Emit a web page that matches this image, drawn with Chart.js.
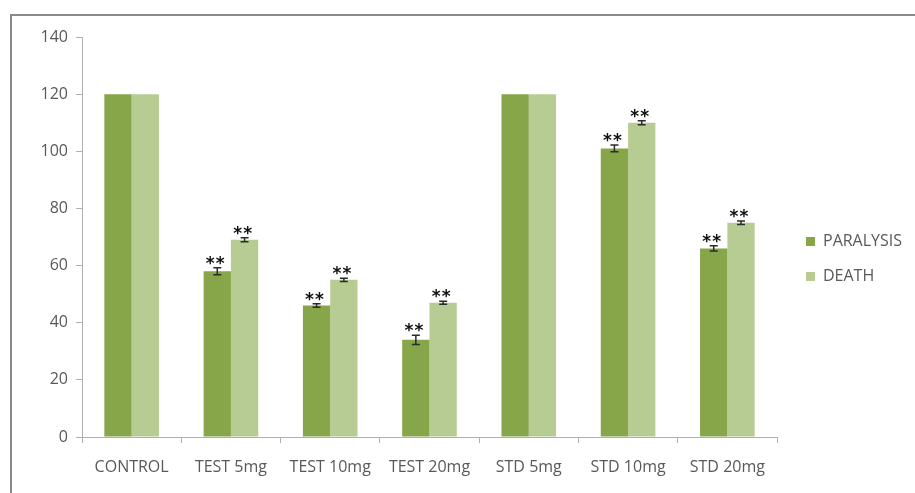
<!DOCTYPE html>
<html>
<head>
<meta charset="utf-8">
<script src="https://cdn.jsdelivr.net/npm/chart.js@4"></script>
<style>
  html, body { margin: 0; padding: 0; background: #fff; overflow: hidden; }
  #wrap { position: relative; width: 915px; height: 493px; }
  #frame { position: absolute; left: 10px; top: 14px; width: 1000px; height: 1000px;
           border-left: 2px solid #8a8a8a; border-top: 2px solid #8a8a8a; box-sizing: border-box; }
  canvas { position: absolute; left: 0; top: 0; }
</style>
</head>
<body>
<div id="wrap">
  <div id="frame"></div>
  <canvas id="chart" width="915" height="493"></canvas>
</div>
<script>
  // groups on the x axis
  const groups = ['CONTROL', 'TEST 5mg', 'TEST 10mg', 'TEST 20mg', 'STD 5mg', 'STD 10mg', 'STD 20mg'];

  // time values per group
  const paralysis = [120, 58, 46, 34, 120, 101, 66];
  const death = [120, 69, 55, 47, 120, 110, 75];

  // error bars (0 = none)
  const paralysisErr = [0, 1.2, 0.6, 1.6, 0, 1.2, 0.9];
  const deathErr = [0, 0.7, 0.6, 0.5, 0, 0.7, 0.6];

  // significance marks drawn above the bars
  const paralysisSig = ['', '**', '**', '**', '', '**', '**'];
  const deathSig = ['', '**', '**', '**', '', '**', '**'];

  const yTicks = [0, 20, 40, 60, 80, 100, 120, 140];

  const COLOR_PARALYSIS = '#87a64a';
  const COLOR_DEATH = '#b6cc93';
  const COLOR_TEXT = '#595959';
  const COLOR_AXIS = '#b0b0b0';
  const FONT = "'Open Sans', sans-serif";

  // error bars + stars, placed through the chart's own scales
  const errorBarPlugin = {
    id: 'errorBars',
    afterDatasetsDraw(chart) {
      const ctx = chart.ctx;
      const yScale = chart.scales.y;
      chart.data.datasets.forEach((ds, di) => {
        const meta = chart.getDatasetMeta(di);
        meta.data.forEach((bar, i) => {
          const v = ds.data[i];
          const err = ds.errors[i];
          let top = yScale.getPixelForValue(v);
          ctx.save();
          if (err) {
            const yHi = yScale.getPixelForValue(v + err);
            const yLo = yScale.getPixelForValue(v - err);
            ctx.strokeStyle = '#2b2b2b';
            ctx.lineWidth = 1.5;
            ctx.beginPath();
            ctx.moveTo(bar.x, yHi); ctx.lineTo(bar.x, yLo);
            ctx.moveTo(bar.x - 4, yHi); ctx.lineTo(bar.x + 4, yHi);
            ctx.moveTo(bar.x - 4, yLo); ctx.lineTo(bar.x + 4, yLo);
            ctx.stroke();
            top = yHi;
          }
          const mark = ds.sig[i];
          if (mark) {
            ctx.fillStyle = '#111';
            ctx.font = "bold 17px 'DejaVu Sans', sans-serif";
            ctx.textAlign = 'center';
            ctx.textBaseline = 'alphabetic';
            // two stars, spaced apart like the original
            const n = mark.length;
            for (let k = 0; k < n; k++) {
              ctx.fillText('*', bar.x - 2 + (k - (n - 1) / 2) * 10, top + 1);
            }
          }
          ctx.restore();
        });
      });
    }
  };

  // legend sits at a fixed width right of the plot, nudged into place
  const legendPlace = {
    id: 'legendPlace',
    beforeUpdate(chart) {
      const lg = chart.legend;
      if (lg && !lg._patched) {
        const fit = lg.fit;
        lg.fit = function() { fit.call(this); this.width = 138; };
        lg._patched = true;
      }
    },
    afterLayout(chart) {
      const lg = chart.legend;
      if (!lg) return;
      lg.left += 10; lg.right += 10;
      lg.top -= 6; lg.bottom -= 6;
    }
  };

  new Chart(document.getElementById('chart'), {
    type: 'bar',
    data: {
      labels: groups,
      datasets: [
        { label: 'PARALYSIS', data: paralysis, errors: paralysisErr, sig: paralysisSig,
          backgroundColor: COLOR_PARALYSIS, borderWidth: 0,
          barPercentage: 1, categoryPercentage: 0.55 },
        { label: 'DEATH', data: death, errors: deathErr, sig: deathSig,
          backgroundColor: COLOR_DEATH, borderWidth: 0,
          barPercentage: 1, categoryPercentage: 0.55 }
      ]
    },
    options: {
      responsive: false,
      animation: false,
      layout: { padding: { top: 37, left: 10, right: 0, bottom: 0 } },
      plugins: {
        tooltip: { enabled: false },
        legend: {
          position: 'right',
          labels: {
            color: COLOR_TEXT,
            boxWidth: 9,
            boxHeight: 9,
            padding: 19,
            font: { size: 16, family: FONT }
          }
        }
      },
      scales: {
        x: {
          grid: { drawOnChartArea: false, offset: true, tickLength: 6, color: COLOR_AXIS },
          border: { color: COLOR_AXIS },
          ticks: { color: COLOR_TEXT, padding: 15, maxRotation: 0, font: { size: 16, family: FONT } },
          afterFit(scale) { scale.height = 56; }
        },
        y: {
          min: 0,
          max: 140,
          afterBuildTicks(scale) { scale.ticks = yTicks.map(v => ({ value: v })); },
          grid: { drawOnChartArea: false, tickLength: 6, color: COLOR_AXIS },
          border: { color: COLOR_AXIS },
          ticks: { color: COLOR_TEXT, padding: 8, font: { size: 16, family: FONT } },
          afterFit(scale) { scale.width = 72; }
        }
      }
    },
    plugins: [errorBarPlugin, legendPlace]
  });
</script>
</body>
</html>
